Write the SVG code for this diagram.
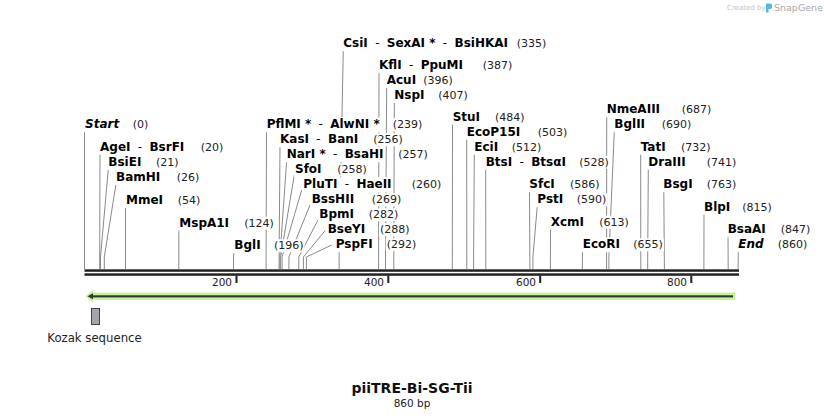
<svg xmlns="http://www.w3.org/2000/svg" width="824" height="419" viewBox="0 0 824 419">
<style>
.nm{font-family:"DejaVu Sans","Liberation Sans",sans-serif;font-weight:bold;font-size:12px;fill:#000}
.it{font-style:italic}
.sep{font-weight:normal}
.num{font-family:"DejaVu Sans","Liberation Sans",sans-serif;font-size:11px;fill:#222}
.bg{fill:#fff}
.ln{fill:none;stroke:#8a8a8a;stroke-width:1}
.tk{font-family:"DejaVu Sans","Liberation Sans",sans-serif;font-size:10.5px;fill:#222;text-anchor:end}
</style>
<rect width="824" height="419" fill="#fff"/>

<g id="watermark">
<text x="727" y="10" font-family="DejaVu Sans, sans-serif" font-size="7px" fill="#c4c4c4">Created by</text>
<path d="M766,3.5 h3.5 a2.8,2.8 0 0 1 0,5.6 h-1 v3.4 h-2.5 z" fill="#5ab6e6"/>
<text x="774" y="11" font-family="DejaVu Sans, sans-serif" font-size="9.5px" fill="#a8a8a8">SnapGene</text>
</g>

<g id="connectors">
<polyline class="ln" points="84.5,131 84.5,269"/>
<polyline class="ln" points="100,154 99.7,257 99.7,269"/>
<polyline class="ln" points="108.3,169 100.5,257 100.5,269"/>
<polyline class="ln" points="116,184 104.3,257 104.3,269"/>
<polyline class="ln" points="125.5,207 125.5,269"/>
<polyline class="ln" points="178.8,230 178.8,269"/>
<polyline class="ln" points="234,252 233.5,257 233.5,269"/>
<polyline class="ln" points="266.5,131 266.1,257 266.1,269"/>
<polyline class="ln" points="280,146 279.1,257 279.1,269"/>
<polyline class="ln" points="286.7,160 279.9,257 279.9,269"/>
<polyline class="ln" points="294.3,175 280.6,257 280.6,269"/>
<polyline class="ln" points="301.7,190 282.1,257 282.1,269"/>
<polyline class="ln" points="310,205 288.9,257 288.9,269"/>
<polyline class="ln" points="318,220 298.8,257 298.8,269"/>
<polyline class="ln" points="325,230.7 303.4,257 303.4,269"/>
<polyline class="ln" points="331.7,245 306.4,257 306.4,269"/>
<polyline class="ln" points="343.3,50 339.1,257 339.1,269"/>
<polyline class="ln" points="379,72 378.6,257 378.6,269"/>
<polyline class="ln" points="386.7,87 385.5,257 385.5,269"/>
<polyline class="ln" points="394.3,102 393.8,257 393.8,269"/>
<polyline class="ln" points="452.5,124 452.3,269"/>
<polyline class="ln" points="466.7,139 466.8,269"/>
<polyline class="ln" points="474.3,154 473.6,257 473.6,269"/>
<polyline class="ln" points="485.7,169 485.8,269"/>
<polyline class="ln" points="529.5,191 529.9,269"/>
<polyline class="ln" points="537.3,206 532.9,257 532.9,269"/>
<polyline class="ln" points="550.5,229 550.4,269"/>
<polyline class="ln" points="582.5,251 582.3,269"/>
<polyline class="ln" points="606.7,116 606.6,269"/>
<polyline class="ln" points="614.3,131 608.9,257 608.9,269"/>
<polyline class="ln" points="640.7,154 640.8,269"/>
<polyline class="ln" points="648.3,169 647.7,257 647.7,269"/>
<polyline class="ln" points="663.8,191 664.4,269"/>
<polyline class="ln" points="704,214 703.9,269"/>
<polyline class="ln" points="728,236 728.2,269"/>
<polyline class="ln" points="738.3,251 738.1,269"/>
</g>

<g id="lbl-Start"><rect class="bg" x="83.5" y="117.3" width="36" height="15"/><rect class="bg" x="131.7" y="118.3" width="17.6" height="13"/>
<text class="nm it" x="85" y="128.3">Start</text><text class="num" x="132.7" y="128.3">(0)</text></g>
<g id="lbl-AgeI"><rect class="bg" x="99" y="139.7" width="88" height="15"/><rect class="bg" x="199.7" y="140.7" width="24.6" height="13"/>
<text class="nm" x="100" y="150.7">AgeI<tspan class="sep" dx="3.5"> - </tspan><tspan dx="3.5">BsrFI</tspan></text><text class="num" x="200.7" y="150.7">(20)</text></g>
<g id="lbl-BsiEI"><rect class="bg" x="107.3" y="155" width="35" height="15"/><rect class="bg" x="155" y="156" width="24.6" height="13"/>
<text class="nm" x="108.3" y="166">BsiEI</text><text class="num" x="156" y="166">(21)</text></g>
<g id="lbl-BamHI"><rect class="bg" x="115" y="170" width="46" height="15"/><rect class="bg" x="175.7" y="171" width="24.6" height="13"/>
<text class="nm" x="116" y="181">BamHI</text><text class="num" x="176.7" y="181">(26)</text></g>
<g id="lbl-MmeI"><rect class="bg" x="125" y="193" width="39" height="15"/><rect class="bg" x="176.7" y="194" width="24.6" height="13"/>
<text class="nm" x="126" y="204">MmeI</text><text class="num" x="177.7" y="204">(54)</text></g>
<g id="lbl-MspA1I"><rect class="bg" x="178.3" y="215.7" width="52" height="15"/><rect class="bg" x="243.3" y="216.7" width="31.6" height="13"/>
<text class="nm" x="179.3" y="226.7">MspA1I</text><text class="num" x="244.3" y="226.7">(124)</text></g>
<g id="lbl-BglI"><rect class="bg" x="233.3" y="238.3" width="28" height="15"/><rect class="bg" x="273" y="239.3" width="31.6" height="13"/>
<text class="nm" x="234.3" y="249.3">BglI</text><text class="num" x="274" y="249.3">(196)</text></g>

<g id="lbl-PflMI"><rect class="bg" x="265.7" y="117.3" width="116" height="15"/><rect class="bg" x="391.7" y="118.3" width="31.6" height="13"/>
<text class="nm" x="266.7" y="128.3">PflMI *<tspan class="sep" dx="3.5"> - </tspan><tspan dx="3.5">AlwNI *</tspan></text><text class="num" x="392.7" y="128.3">(239)</text></g>
<g id="lbl-KasI"><rect class="bg" x="279" y="132.3" width="80" height="15"/><rect class="bg" x="372.3" y="133.3" width="31.6" height="13"/>
<text class="nm" x="280" y="143.3">KasI<tspan class="sep" dx="3.5"> - </tspan><tspan dx="3.5">BanI</tspan></text><text class="num" x="373.3" y="143.3">(256)</text></g>
<g id="lbl-NarI"><rect class="bg" x="285.7" y="147.3" width="99" height="15"/><rect class="bg" x="397.3" y="148.3" width="31.6" height="13"/>
<text class="nm" x="286.7" y="158.3">NarI *<tspan class="sep" dx="3.5"> - </tspan><tspan dx="3.5">BsaHI</tspan></text><text class="num" x="398.3" y="158.3">(257)</text></g>
<g id="lbl-SfoI"><rect class="bg" x="294" y="162.3" width="29" height="15"/><rect class="bg" x="336.3" y="163.3" width="31.6" height="13"/>
<text class="nm" x="295" y="173.3">SfoI</text><text class="num" x="337.3" y="173.3">(258)</text></g>
<g id="lbl-PluTI"><rect class="bg" x="302.3" y="177.3" width="90" height="15"/><rect class="bg" x="410.7" y="178.3" width="31.6" height="13"/>
<text class="nm" x="303.3" y="188.3">PluTI<tspan class="sep" dx="3.5"> - </tspan><tspan dx="3.5">HaeII</tspan></text><text class="num" x="411.7" y="188.3">(260)</text></g>
<g id="lbl-BssHII"><rect class="bg" x="310.7" y="192.3" width="44" height="15"/><rect class="bg" x="370.7" y="193.3" width="31.6" height="13"/>
<text class="nm" x="311.7" y="203.3">BssHII</text><text class="num" x="371.7" y="203.3">(269)</text></g>
<g id="lbl-BpmI"><rect class="bg" x="318.3" y="207.3" width="37" height="15"/><rect class="bg" x="367.7" y="208.3" width="31.6" height="13"/>
<text class="nm" x="319.3" y="218.3">BpmI</text><text class="num" x="368.7" y="218.3">(282)</text></g>
<g id="lbl-BseYI"><rect class="bg" x="326.7" y="222.3" width="40" height="15"/><rect class="bg" x="379" y="223.3" width="31.6" height="13"/>
<text class="nm" x="327.7" y="233.3">BseYI</text><text class="num" x="380" y="233.3">(288)</text></g>
<g id="lbl-PspFI"><rect class="bg" x="334.7" y="237.3" width="39" height="15"/><rect class="bg" x="385.7" y="238.3" width="31.6" height="13"/>
<text class="nm" x="335.7" y="248.3">PspFI</text><text class="num" x="386.7" y="248.3">(292)</text></g>

<g id="lbl-CsiI"><rect class="bg" x="342.3" y="36.3" width="166" height="15"/><rect class="bg" x="515.7" y="37.3" width="31.6" height="13"/>
<text class="nm" x="343.3" y="47.3">CsiI<tspan class="sep" dx="3.5"> - </tspan><tspan dx="3.5">SexAI *</tspan><tspan class="sep" dx="3.5"> - </tspan><tspan dx="3.5">BsiHKAI</tspan></text><text class="num" x="516.7" y="47.3">(335)</text></g>
<g id="lbl-KflI"><rect class="bg" x="378" y="58" width="87" height="15"/><rect class="bg" x="481.7" y="59" width="31.6" height="13"/>
<text class="nm" x="379" y="69">KflI<tspan class="sep" dx="3.5"> - </tspan><tspan dx="3.5">PpuMI</tspan></text><text class="num" x="482.7" y="69">(387)</text></g>
<g id="lbl-AcuI"><rect class="bg" x="385.7" y="73" width="31" height="15"/><rect class="bg" x="422.3" y="74" width="31.6" height="13"/>
<text class="nm" x="386.7" y="84">AcuI</text><text class="num" x="423.3" y="84">(396)</text></g>
<g id="lbl-NspI"><rect class="bg" x="393.3" y="88" width="32" height="15"/><rect class="bg" x="437.3" y="89" width="31.6" height="13"/>
<text class="nm" x="394.3" y="99">NspI</text><text class="num" x="438.3" y="99">(407)</text></g>

<g id="lbl-StuI"><rect class="bg" x="451.7" y="109.7" width="29" height="15"/><rect class="bg" x="494" y="110.7" width="31.6" height="13"/>
<text class="nm" x="452.7" y="120.7">StuI</text><text class="num" x="495" y="120.7">(484)</text></g>
<g id="lbl-EcoP15I"><rect class="bg" x="465.7" y="124.7" width="55" height="15"/><rect class="bg" x="536.7" y="125.7" width="31.6" height="13"/>
<text class="nm" x="466.7" y="135.7">EcoP15I</text><text class="num" x="537.7" y="135.7">(503)</text></g>
<g id="lbl-EciI"><rect class="bg" x="473.3" y="139.7" width="26" height="15"/><rect class="bg" x="510.7" y="140.7" width="31.6" height="13"/>
<text class="nm" x="474.3" y="150.7">EciI</text><text class="num" x="511.7" y="150.7">(512)</text></g>
<g id="lbl-BtsI"><rect class="bg" x="484.7" y="154.7" width="83" height="15"/><rect class="bg" x="578.3" y="155.7" width="31.6" height="13"/>
<text class="nm" x="485.7" y="165.7">BtsI<tspan class="sep" dx="3.5"> - </tspan><tspan dx="3.5">BtsαI</tspan></text><text class="num" x="579.3" y="165.7">(528)</text></g>
<g id="lbl-SfcI"><rect class="bg" x="528.3" y="177.3" width="27" height="15"/><rect class="bg" x="569" y="178.3" width="31.6" height="13"/>
<text class="nm" x="529.3" y="188.3">SfcI</text><text class="num" x="570" y="188.3">(586)</text></g>
<g id="lbl-PstI"><rect class="bg" x="536.3" y="192.3" width="28" height="15"/><rect class="bg" x="575.7" y="193.3" width="31.6" height="13"/>
<text class="nm" x="537.3" y="203.3">PstI</text><text class="num" x="576.7" y="203.3">(590)</text></g>
<g id="lbl-XcmI"><rect class="bg" x="549.7" y="214.7" width="35" height="15"/><rect class="bg" x="598.3" y="215.7" width="31.6" height="13"/>
<text class="nm" x="550.7" y="225.7">XcmI</text><text class="num" x="599.3" y="225.7">(613)</text></g>
<g id="lbl-EcoRI"><rect class="bg" x="581.7" y="237.3" width="39" height="15"/><rect class="bg" x="632.3" y="238.3" width="31.6" height="13"/>
<text class="nm" x="582.7" y="248.3">EcoRI</text><text class="num" x="633.3" y="248.3">(655)</text></g>

<g id="lbl-NmeAIII"><rect class="bg" x="605.7" y="102.3" width="55" height="15"/><rect class="bg" x="680.7" y="103.3" width="31.6" height="13"/>
<text class="nm" x="606.7" y="113.3">NmeAIII</text><text class="num" x="681.7" y="113.3">(687)</text></g>
<g id="lbl-BglII"><rect class="bg" x="613.3" y="117.3" width="32" height="15"/><rect class="bg" x="660.7" y="118.3" width="31.6" height="13"/>
<text class="nm" x="614.3" y="128.3">BglII</text><text class="num" x="661.7" y="128.3">(690)</text></g>
<g id="lbl-TatI"><rect class="bg" x="639.7" y="139.7" width="28" height="15"/><rect class="bg" x="680" y="140.7" width="31.6" height="13"/>
<text class="nm" x="640.7" y="150.7">TatI</text><text class="num" x="681" y="150.7">(732)</text></g>
<g id="lbl-DraIII"><rect class="bg" x="647.3" y="154.7" width="39" height="15"/><rect class="bg" x="705.7" y="155.7" width="31.6" height="13"/>
<text class="nm" x="648.3" y="165.7">DraIII</text><text class="num" x="706.7" y="165.7">(741)</text></g>
<g id="lbl-BsgI"><rect class="bg" x="662.3" y="177.3" width="31" height="15"/><rect class="bg" x="705.7" y="178.3" width="31.6" height="13"/>
<text class="nm" x="663.3" y="188.3">BsgI</text><text class="num" x="706.7" y="188.3">(763)</text></g>
<g id="lbl-BlpI"><rect class="bg" x="703" y="199.7" width="28" height="15"/><rect class="bg" x="741.3" y="200.7" width="31.6" height="13"/>
<text class="nm" x="704" y="210.7">BlpI</text><text class="num" x="742.3" y="210.7">(815)</text></g>
<g id="lbl-BsaAI"><rect class="bg" x="726.7" y="222.3" width="40" height="15"/><rect class="bg" x="779.7" y="223.3" width="31.6" height="13"/>
<text class="nm" x="727.7" y="233.3">BsaAI</text><text class="num" x="780.7" y="233.3">(847)</text></g>
<g id="lbl-End"><rect class="bg" x="737.3" y="237.3" width="27" height="15"/><rect class="bg" x="776.7" y="238.3" width="31.6" height="13"/>
<text class="nm it" x="738.3" y="248.3">End</text><text class="num" x="777.7" y="248.3">(860)</text></g>

<g id="ruler">
<rect x="84.5" y="269.3" width="654.5" height="2.5" fill="#222"/>
<rect x="84.5" y="273.3" width="654.5" height="2.5" fill="#222"/>
<rect x="235.5" y="275.5" width="2" height="7.5" fill="#222"/>
<rect x="387.3" y="275.5" width="2" height="7.5" fill="#222"/>
<rect x="539.2" y="275.5" width="2" height="7.5" fill="#222"/>
<rect x="690.3" y="275.5" width="2" height="7.5" fill="#222"/>
<text class="tk" x="232" y="286">200</text>
<text class="tk" x="384" y="286">400</text>
<text class="tk" x="536" y="286">600</text>
<text class="tk" x="687" y="286">800</text>
</g>

<g id="feature-arrow">
<polygon points="86,296.3 92.5,290.8 92.5,293 735,293 735,299.6 92.5,299.6 92.5,301.8" fill="#c3f598" stroke="#b2ec84" stroke-width="0.6"/>
<rect x="91" y="295.3" width="642" height="2.1" fill="#333"/>
<polygon points="87.5,296.3 93,293.3 93,299.3" fill="#333"/>
</g>

<g id="feature-kozak">
<rect x="91.5" y="308.5" width="8" height="16" fill="#a1a6ad" stroke="#444" stroke-width="1"/>
<text x="94.5" y="342" text-anchor="middle" font-family="DejaVu Sans, sans-serif" font-size="11.7px" fill="#222">Kozak sequence</text>
</g>

<g id="title">
<text x="412" y="393" text-anchor="middle" font-family="DejaVu Sans, sans-serif" font-weight="bold" font-size="14px" fill="#111">piiTRE-Bi-SG-Tii</text>
<text x="412" y="407" text-anchor="middle" font-family="DejaVu Sans, sans-serif" font-size="10.5px" fill="#222">860 bp</text>
</g>
</svg>
